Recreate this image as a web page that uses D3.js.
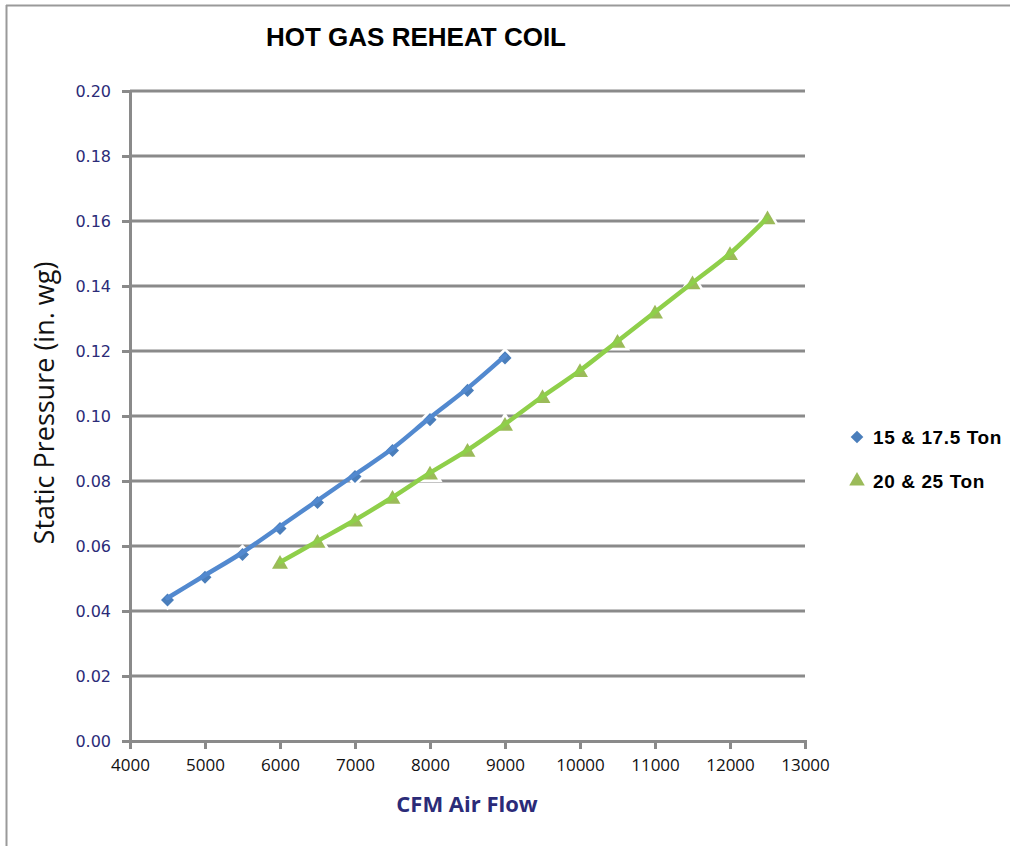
<!DOCTYPE html>
<html>
<head>
<meta charset="utf-8">
<script src="https://cdn.jsdelivr.net/npm/d3@7/dist/d3.min.js"></script>
<style>
  html, body { margin: 0; padding: 0; background: #fff; }
  svg { display: block; }
</style>
</head>
<body>
<svg id="chart" width="1010" height="846"></svg>
<script>
// Airflow (CFM) vs static pressure (in. wg) for two coil sizes
const cfmSmall = [4500, 5000, 5500, 6000, 6500, 7000, 7500, 8000, 8500, 9000];
const spSmall  = [0.044, 0.051, 0.058, 0.066, 0.074, 0.082, 0.090, 0.0995, 0.1085, 0.1185];

const cfmLarge = [6000, 6500, 7000, 7500, 8000, 8500, 9000, 9500, 10000, 10500, 11000, 11500, 12000, 12500];
const spLarge  = [0.055, 0.0615, 0.068, 0.075, 0.0825, 0.0895, 0.0975, 0.106, 0.114, 0.123, 0.132, 0.141, 0.150, 0.161];

const seriesNames = ["15 & 17.5 Ton", "20 & 25 Ton"];
const xTicks = [4000, 5000, 6000, 7000, 8000, 9000, 10000, 11000, 12000, 13000];
const yTicks = [0, 0.02, 0.04, 0.06, 0.08, 0.10, 0.12, 0.14, 0.16, 0.18, 0.20];

const svg = d3.select("#chart");

// outer frame of the chart sheet
svg.append("line").attr("x1", 6).attr("x2", 1010).attr("y1", 5.5).attr("y2", 5.5)
  .attr("stroke", "#9a9a9a").attr("stroke-width", 2);
svg.append("line").attr("x1", 6.5).attr("x2", 6.5).attr("y1", 5).attr("y2", 846)
  .attr("stroke", "#9a9a9a").attr("stroke-width", 2);

const x = d3.scaleLinear().domain([4000, 13000]).range([130, 805]);
const y = d3.scaleLinear().domain([0, 0.20]).range([741, 91]);

const gridColor = "#8a8a8a";

// horizontal gridlines
svg.append("g").selectAll("line").data(yTicks.filter(d => d > 0)).join("line")
  .attr("x1", x(4000)).attr("x2", x(13000))
  .attr("y1", d => y(d)).attr("y2", d => y(d))
  .attr("stroke", gridColor).attr("stroke-width", 3);

// y axis
const yAxis = svg.append("g").attr("transform", `translate(${x(4000)},0)`)
  .call(d3.axisLeft(y).tickValues(yTicks).tickFormat(d3.format(".2f")).tickSize(8).tickPadding(11));
yAxis.select(".domain").attr("stroke", gridColor).attr("stroke-width", 3);
yAxis.selectAll(".tick line").attr("stroke", gridColor).attr("stroke-width", 3);
yAxis.selectAll(".tick text").attr("fill", "#2b2b78").attr("dy", "0.36em")
  .style("font-family", "'DejaVu Sans', Verdana, sans-serif").style("font-size", "16px");

// x axis
const xAxis = svg.append("g").attr("transform", `translate(0,${y(0)})`)
  .call(d3.axisBottom(x).tickValues(xTicks).tickFormat(d3.format("d")).tickSize(8).tickPadding(10));
xAxis.select(".domain").attr("stroke", gridColor).attr("stroke-width", 3);
xAxis.selectAll(".tick line").attr("stroke", gridColor).attr("stroke-width", 3);
xAxis.selectAll(".tick text").attr("fill", "#111")
  .style("font-family", "'Open Sans', 'Liberation Sans', sans-serif").style("font-size", "17px");

// titles
svg.append("text").attr("x", 416).attr("y", 46).attr("text-anchor", "middle")
  .style("font-family", "'Liberation Sans Narrow', 'Liberation Sans', Arial, sans-serif")
  .style("font-weight", "bold").style("font-size", "26px").attr("fill", "#000")
  .text("HOT GAS REHEAT COIL");

svg.append("text").attr("transform", "translate(54,403) rotate(-90)").attr("text-anchor", "middle")
  .style("font-family", "'Open Sans', 'Liberation Sans', sans-serif")
  .style("font-size", "27px").attr("fill", "#111")
  .text("Static Pressure (in. wg)");

svg.append("text").attr("x", 467).attr("y", 812).attr("text-anchor", "middle")
  .style("font-family", "'Open Sans', 'Liberation Sans', sans-serif")
  .style("font-weight", "bold").style("font-size", "22px").attr("fill", "#2b2b78")
  .text("CFM Air Flow");

// diamonds are squares turned 45 degrees
const series = [
  { name: seriesNames[0], xs: cfmSmall, ys: spSmall, line: "#5289cf", mark: "#4a7ebb", symbol: d3.symbolSquare, rot: 45, size: 85 },
  { name: seriesNames[1], xs: cfmLarge, ys: spLarge, line: "#8fcf4a", mark: "#9bbb59", symbol: d3.symbolTriangle, rot: 0, size: 110 }
];

const lineGen = d3.line().x(d => x(d[0])).y(d => y(d[1])).curve(d3.curveMonotoneX);

series.forEach(s => {
  const pts = s.xs.map((v, i) => [v, s.ys[i]]);
  const g = svg.append("g");
  // white halo behind markers
  g.selectAll("path.halo").data(pts).join("path").attr("class", "halo")
    .attr("d", d3.symbol().type(s.symbol).size(s.size * 1.3))
    .attr("transform", d => `translate(${x(d[0])},${y(d[1]) + 2}) rotate(${s.rot})`)
    .attr("fill", "#fff").attr("stroke", "#fff").attr("stroke-width", 4);
  g.selectAll("path.mk").data(pts).join("path").attr("class", "mk")
    .attr("d", d3.symbol().type(s.symbol).size(s.size))
    .attr("transform", d => `translate(${x(d[0])},${y(d[1]) + 2}) rotate(${s.rot})`)
    .attr("fill", s.mark);
  g.append("path").datum(pts).attr("d", lineGen)
    .attr("fill", "none").attr("stroke", s.line).attr("stroke-width", 4.5)
    .attr("stroke-linecap", "round");
});

// legend
const legend = svg.append("g");
series.forEach((s, i) => {
  const ly = 437 + i * 44;
  legend.append("path").attr("d", d3.symbol().type(s.symbol).size(s.size * 0.95))
    .attr("transform", `translate(857,${ly}) rotate(${s.rot})`).attr("fill", s.mark);
  legend.append("text").attr("x", 873).attr("y", ly + 7)
    .style("font-family", "'Liberation Sans', Arial, sans-serif")
    .style("font-weight", "bold").style("font-size", "19px").style("letter-spacing", "0.6px")
    .attr("fill", "#000")
    .text(s.name);
});
</script>
</body>
</html>
